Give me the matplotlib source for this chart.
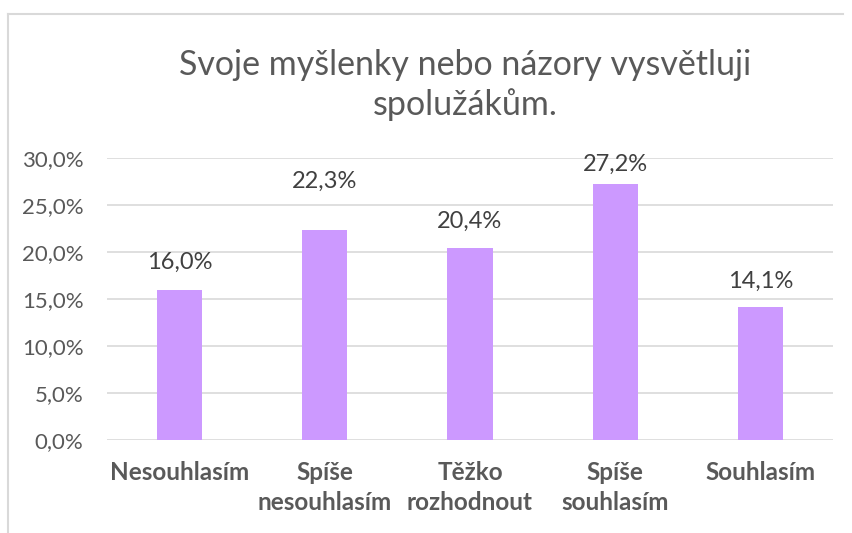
import matplotlib
matplotlib.use("Agg")
import matplotlib.pyplot as plt
from matplotlib.lines import Line2D
from matplotlib.ticker import FuncFormatter

categories = ["Nesouhlasím", "Spíše\nnesouhlasím", "Těžko\nrozhodnout", "Spíše\nsouhlasím", "Souhlasím"]
values = [16.0, 22.3, 20.4, 27.2, 14.1]
yticks = [0, 5, 10, 15, 20, 25, 30]
title = "Svoje myšlenky nebo názory vysvětluji\nspolužákům."

# label offsets above bar tops (pixels), as placed in the original chart
label_offsets_px = [27, 49, 27, 20, 26]

plt.rcParams['font.family'] = ['Lato', 'DejaVu Sans']

W, H = 853, 533
fig = plt.figure(figsize=(W / 100, H / 100), dpi=100)
fig.patch.set_facecolor("white")

# chart border (cropped on right/bottom)
fig.add_artist(Line2D([8 / W, 843 / W], [1 - 14 / H, 1 - 14 / H], color="#D9D9D9", lw=1.5, transform=fig.transFigure))
fig.add_artist(Line2D([8 / W, 8 / W], [1 - 14 / H, 0], color="#D9D9D9", lw=1.5, transform=fig.transFigure))

ax = fig.add_axes([107 / W, 1 - 440 / H, (833 - 107) / W, (440 - 158) / H])
x = list(range(len(categories)))
ax.bar(x, values, width=0.31, color="#CC99FF", zorder=3)
ax.set_xlim(-0.5, len(categories) - 0.5)
ax.set_ylim(0, 30)
ax.set_yticks(yticks)
ax.yaxis.set_major_formatter(FuncFormatter(lambda v, p: f"{v:.1f}".replace(".", ",") + "%"))
ax.grid(axis="y", color="#D9D9D9", lw=1.2, zorder=0)
for s in ax.spines.values():
    s.set_visible(False)
ax.tick_params(axis="y", length=0, pad=17, labelsize=16, labelcolor="#595959")
ax.tick_params(axis="x", length=0, pad=15)
ax.set_xticks(x)
ax.set_xticklabels(categories, fontsize=17.5, fontweight="bold", color="#595959", linespacing=1.4)

for xi, v, off in zip(x, values, label_offsets_px):
    ax.annotate(f"{v:.1f}".replace(".", ",") + "%", (xi, v), xytext=(0, off * 0.72), textcoords="offset points",
                ha="center", va="center", fontsize=17, color="#404040")

fig.text(465 / W, 1 - 85 / H, title, ha="center", va="center", fontsize=24.5, color="#595959", linespacing=1.3)

fig.savefig("out.png", dpi=100)
